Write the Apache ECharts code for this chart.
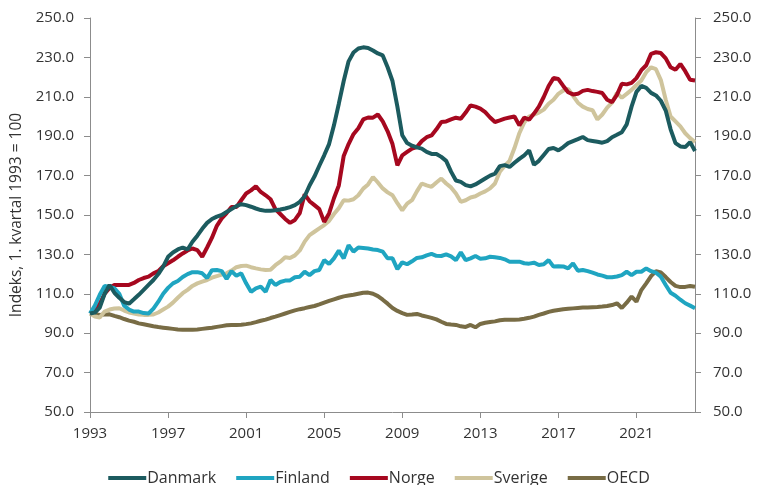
<!DOCTYPE html>
<html>
<head>
<meta charset="utf-8">
<script src="https://cdn.jsdelivr.net/npm/echarts@6/dist/echarts.min.js"></script>
<style>
html,body{margin:0;padding:0;background:#fff;}
#chart{width:758px;height:485px;}
</style>
</head>
<body>
<div id="chart"></div>
<script>
// Quarterly categories 1993K1 .. 2024K1
var categories = [];
for (var y = 1993; y <= 2024; y++) {
  for (var q = 1; q <= 4; q++) {
    if (y === 2024 && q > 1) break;
    categories.push(y + 'K' + q);
  }
}

var seriesNames = ['Danmark', 'Finland', 'Norge', 'Sverige', 'OECD'];

var danmark = [
  100, 100.5, 103, 110,
  114.5, 110.5, 108, 105.8,
  105, 107.2, 109.5, 112,
  114.5, 117, 120, 123.8,
  128.8, 131, 132.5, 133.5,
  132.5, 136.4, 139.5, 143,
  146, 148, 149.2, 150,
  151.5, 153, 154.5, 155.5,
  155, 154.2, 153.3, 152.5,
  152.1, 152.2, 152.4, 152.8,
  153.3, 154, 155, 156.7,
  159.5, 165, 169.5, 175,
  180.3, 186, 195.5, 206.5,
  218, 228, 232.5, 234.5,
  235.1, 234.8, 233.5, 232,
  231, 225, 218, 205,
  190.5, 186.5, 185.2, 184.3,
  183.7, 182, 181, 181,
  179.5, 177.5, 172, 167.5,
  166.8, 165.2, 164.5, 165.5,
  167, 168.5, 170, 171,
  174.8, 175.3, 174.4, 176.5,
  178.5, 180.3, 182.8, 175.5,
  177.5, 180.5, 183.5, 184,
  182.8, 184.5, 186.5, 187.5,
  188.5, 189.6, 188, 187.6,
  187.2, 186.7, 187.5, 189.5,
  190.7, 192, 196, 205,
  212.5, 215.5, 214.5, 212,
  210.7, 208, 203, 193.5,
  186.5, 184.8, 184.5, 187,
  182.5
];

var finland = [
  100, 104, 109.5, 114,
  113.5, 112.8, 110, 104,
  102, 101, 101, 100.2,
  100, 102.5, 106, 110,
  113, 115.3, 116.5, 118.5,
  120, 121, 121, 120.4,
  118, 122, 122.1, 121.5,
  117.5, 121.5, 119.2, 120.4,
  115.3, 111, 112.8, 113.6,
  111, 117, 114.5, 116,
  116.7, 116.8, 118.4, 118.7,
  121.2, 119.5, 121.5, 122.1,
  127.1, 125.1, 128, 131.9,
  128, 134.7, 131.4, 133.5,
  133.3, 133, 132.5, 132.2,
  131.4, 128, 128, 122.5,
  126, 125, 126.5, 128.2,
  128.5, 129.5, 130.3, 129.3,
  129.2, 130, 129, 127.1,
  131, 127.1, 128, 129.2,
  127.8, 128, 128.8, 128.5,
  128.2, 127.5, 126.3, 126.3,
  126.3, 125.5, 125.3, 125.8,
  124.6, 125, 127.1, 123.8,
  124, 123.9, 122.9, 125.4,
  121.7, 122.1, 121.5, 120.7,
  119.8, 119.2, 118.4, 118.4,
  118.8, 119.5, 121.2, 119.5,
  121.2, 121.2, 122.9, 121.5,
  120.7, 118.7, 114.5, 110.5,
  109, 107, 105.2, 104,
  102.7
];

var norge = [
  100, 101.5, 105, 110,
  113, 114.5, 114.5, 114.5,
  114.5, 115.5, 117, 118,
  118.7, 120.4, 121.5, 124,
  125.5, 127, 128.8, 130.5,
  132, 133, 132.2, 128.8,
  133.5, 138.5, 144.5, 148.3,
  151, 154, 154, 157.5,
  160.9, 162.5, 164.6, 161.7,
  160, 158, 153, 150.5,
  148, 146, 147.5, 151,
  160.5, 157, 155, 153,
  146.5, 150.8, 158.5, 165,
  180, 186, 191, 194,
  198.5, 199.5, 199.4, 201,
  197.5, 192.5, 186, 175.2,
  180.3, 182, 183.7, 184.5,
  187.5, 189.5, 190.4, 193.5,
  197.2, 197.5, 198.5, 199.4,
  198.9, 202, 205.6, 205,
  204, 202.2, 199.5, 197.2,
  198, 198.9, 199.5, 200,
  195.5, 199.4, 198.4, 201.5,
  205, 209.9, 215.5, 219.5,
  219, 215.5, 212.3, 211.2,
  211.5, 213, 213.5, 212.9,
  212.5, 211.9, 208.5, 207.3,
  211, 216.6, 216.3, 217.1,
  219.5, 223.5, 226, 231.8,
  232.6, 232.2, 229.5, 225,
  223.7, 226.7, 223, 218.6,
  218.3
];

var sverige = [
  100, 98.5, 98, 101,
  102, 102.5, 102.7, 101.5,
  100.5, 100, 99.5, 99.3,
  99.3, 99.5, 100.5, 102,
  103.5, 105.5, 108, 110.3,
  112, 114, 115.3, 116.2,
  117, 118.2, 119, 119.7,
  120.4, 121.8, 123.5, 124.1,
  124.3, 123.5, 122.9, 122.4,
  122.1, 122.2, 124.5, 126.3,
  128.5, 128.2, 129.5, 132,
  136.5, 139.8, 141.5, 143.2,
  144.9, 147, 150.5, 153.5,
  157.5, 157.3, 158, 160,
  163.4, 165.5, 169.3, 166.5,
  163.5, 161.5, 160, 156,
  152.4, 155.8, 157.5, 162,
  166, 165, 164.3, 166.5,
  168.5, 166, 164, 160.9,
  156.7, 157.5, 158.9, 159.5,
  160.9, 162, 163.5, 166,
  172, 175, 177.5, 184,
  191.5, 197, 200, 201,
  202, 203.5, 206.5, 208.5,
  211.5, 213.2, 214, 210.5,
  207, 205, 203.8, 203.2,
  198.5, 201, 204.5, 207,
  212, 209.5, 211.5, 213.5,
  216, 218.3, 222.5, 225,
  224, 218.5, 208.5, 200,
  197.5, 195, 191.5, 189,
  187
];

var oecd = [
  100, 99.7, 99.3, 99.5,
  99.6, 98.8, 98.1, 97.2,
  96.4, 95.8, 95, 94.5,
  94, 93.5, 93.1, 92.8,
  92.5, 92.2, 91.9, 91.7,
  91.7, 91.7, 91.9, 92.2,
  92.5, 92.8, 93.2, 93.6,
  94, 94.2, 94.2, 94.3,
  94.6, 95, 95.6, 96.3,
  96.9, 97.7, 98.4, 99.2,
  100, 100.8, 101.6, 102.2,
  102.7, 103.3, 103.8, 104.6,
  105.5, 106.4, 107.2, 108,
  108.7, 109.1, 109.5, 110,
  110.5, 110.6, 110, 108.8,
  107, 105, 102.8, 101.3,
  100.2, 99.3, 99.5, 99.8,
  99, 98.4, 97.8, 97,
  95.8, 94.7, 94.4, 94.2,
  93.5, 93.2, 94.2, 93,
  94.7, 95.3, 95.7, 96,
  96.6, 96.8, 96.8, 96.8,
  97, 97.3, 97.8, 98.4,
  99.3, 100, 100.8, 101.4,
  101.8, 102.2, 102.4, 102.6,
  102.8, 103, 103.1, 103.2,
  103.3, 103.5, 103.8, 104.3,
  105.2, 102.8, 105.5, 108.6,
  106, 111.9, 115.3, 119,
  121.5, 120.8, 118.5, 116,
  114, 113.4, 113.5, 114,
  113.6
];

var yTicks = [50, 70, 90, 110, 130, 150, 170, 190, 210, 230, 250];
var yName = 'Indeks, 1. kvartal 1993 = 100';

var colors = ['#1c5b5f', '#1fa5c1', '#a6081f', '#cfc49c', '#786c45'];
var values = [danmark, finland, norge, sverige, oecd];

var chart = echarts.init(document.getElementById('chart'), null, {renderer: 'canvas'});
var font = '"Open Sans", "Noto Sans", sans-serif';
var axisColor = '#8c8c8c';
var textColor = '#333333';

function yAxisCfg(pos) {
  return {
    type: 'value',
    position: pos,
    min: yTicks[0],
    max: yTicks[yTicks.length - 1],
    interval: yTicks[1] - yTicks[0],
    name: pos === 'left' ? yName : '',
    nameLocation: 'middle',
    nameGap: 61,
    nameRotate: 90,
    nameTextStyle: {fontFamily: font, fontSize: 15.5, color: textColor},
    axisLine: {show: true, lineStyle: {color: axisColor, width: 1}},
    axisTick: {show: true, length: 6, lineStyle: {color: axisColor}},
    splitLine: {show: false},
    axisLabel: {
      fontFamily: font, fontSize: 15, color: textColor, margin: pos === 'left' ? 16 : 18,
      formatter: function (v) { return v.toFixed(1); }
    }
  };
}

chart.setOption({
  animation: false,
  backgroundColor: '#ffffff',
  color: colors,
  grid: {left: 90, right: 63, top: 18, bottom: 73, containLabel: false},
  legend: {
    top: 465,
    left: 'center',
    itemWidth: 38,
    itemHeight: 4,
    itemGap: 20,
    icon: 'rect',
    textStyle: {fontFamily: font, fontSize: 16, color: textColor, padding: [0, 0, 0, -4]},
    data: seriesNames
  },
  xAxis: {
    type: 'category',
    boundaryGap: false,
    data: categories,
    axisLine: {show: true, lineStyle: {color: axisColor, width: 1}},
    axisTick: {show: true, interval: 15, length: 6, lineStyle: {color: axisColor}},
    axisLabel: {
      interval: 15, fontFamily: font, fontSize: 15, color: textColor, margin: 14,
      formatter: function (v) { return v.slice(0, 4); }
    },
    splitLine: {show: false}
  },
  yAxis: [yAxisCfg('left'), yAxisCfg('right')],
  series: seriesNames.map(function (n, k) {
    return {
      name: n,
      type: 'line',
      data: values[k],
      yAxisIndex: 0,
      showSymbol: false,
      symbol: 'none',
      lineStyle: {width: 4, color: colors[k]},
      itemStyle: {color: colors[k]},
      z: 2 + (4 - k)
    };
  })
});
</script>
</body>
</html>
